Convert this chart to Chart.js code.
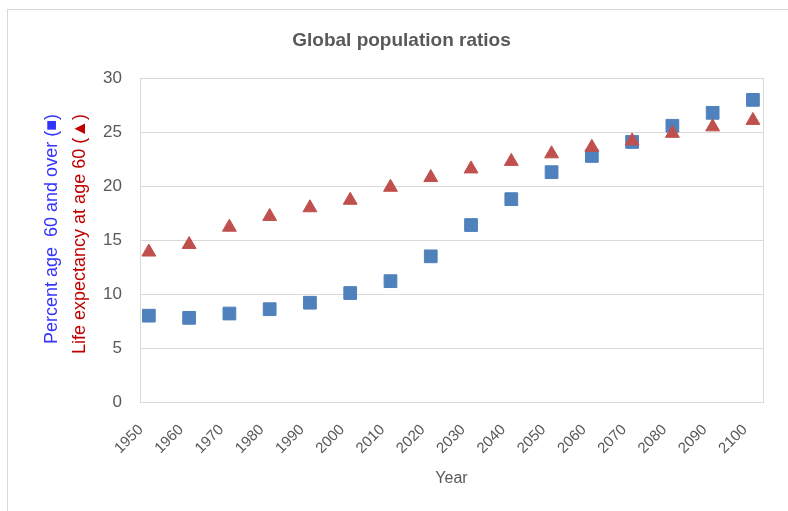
<!DOCTYPE html>
<html>
<head>
<meta charset="utf-8">
<script src="https://cdn.jsdelivr.net/npm/chart.js@4/dist/chart.umd.min.js"></script>
<style>
  html, body { margin: 0; padding: 0; background: #fff; overflow: hidden; }
  #frame { position: absolute; left: 7px; top: 9px; width: 900px; height: 600px; border: 1px solid #d9d9d9; }
  #wrap { position: absolute; left: 0; top: 0; width: 788px; height: 511px; }
</style>
</head>
<body>
<div id="frame"></div>
<div id="wrap"><canvas id="chart" width="788" height="511"></canvas></div>
<script>
// data
const years = [1950, 1960, 1970, 1980, 1990, 2000, 2010, 2020, 2030, 2040, 2050, 2060, 2070, 2080, 2090, 2100];
const pctOver60 = [8.0, 7.8, 8.2, 8.6, 9.2, 10.1, 11.2, 13.5, 16.4, 18.8, 21.3, 22.8, 24.1, 25.6, 26.8, 28.0];
const lifeExp60 = [13.9, 14.6, 16.2, 17.2, 18.0, 18.7, 19.9, 20.8, 21.6, 22.3, 23.0, 23.6, 24.2, 24.9, 25.5, 26.1];
const yTicks = [0, 5, 10, 15, 20, 25, 30];

const blue = '#4F81BD';
const red = '#C0504D';
const grey = '#595959';
const font = "'Liberation Sans', Arial, sans-serif";

// two-colour rotated y-axis title + box around the plot
const extras = {
  id: 'extras',
  beforeDatasetsDraw(chart) {
    const { ctx, chartArea: a } = chart;
    ctx.save();
    ctx.strokeStyle = '#d9d9d9';
    ctx.lineWidth = 1;
    ctx.strokeRect(Math.round(a.left) + 0.5, Math.round(a.top) + 0.5, Math.round(a.right - a.left), Math.round(a.bottom - a.top));
    ctx.restore();
  },
  afterDraw(chart) {
    const ctx = chart.ctx;
    const lines = [
      { text: 'Percent age  60 and over (\u25A0)', color: '#3333ff', x: 52, y: 229 },
      { text: 'Life expectancy at age 60 (\u25B2)', color: '#c00000', x: 80, y: 234 }
    ];
    lines.forEach(l => {
      ctx.save();
      ctx.font = '18px ' + font;
      ctx.textAlign = 'center';
      ctx.textBaseline = 'middle';
      ctx.translate(l.x, l.y);
      ctx.rotate(-Math.PI / 2);
      ctx.fillStyle = l.color;
      ctx.fillText(l.text, 0, 0);
      ctx.restore();
    });
  }
};

const toPoints = vals => years.map((y, i) => ({ x: y, y: vals[i] }));

new Chart(document.getElementById('chart'), {
  type: 'scatter',
  data: {
    datasets: [
      {
        label: 'Life expectancy at age 60',
        data: toPoints(lifeExp60),
        pointStyle: 'triangle',
        pointRadius: 8,
        backgroundColor: red,
        borderColor: red,
        borderWidth: 1
      },
      {
        label: 'Percent age 60 and over',
        data: toPoints(pctOver60),
        pointStyle: 'rect',
        pointRadius: 9,
        backgroundColor: blue,
        borderColor: blue,
        borderWidth: 1
      }
    ]
  },
  options: {
    responsive: false,
    animation: false,
    layout: { padding: { left: 40, right: 25, top: 0, bottom: 0 } },
    plugins: {
      legend: { display: false },
      tooltip: { enabled: false },
      title: {
        display: true,
        text: 'Global population ratios',
        color: grey,
        font: { family: font, size: 19, weight: 'bold' },
        padding: { top: 29, bottom: 26.5 }
      }
    },
    scales: {
      x: {
        type: 'linear',
        min: 1947.8,
        max: 2102.5,
        afterBuildTicks: s => { s.ticks = years.map(v => ({ value: v })); },
        afterFit: s => { s.height = 109; },
        grid: { display: false },
        border: { display: true, color: '#d9d9d9' },
        ticks: {
          color: grey,
          font: { family: font, size: 15 },
          minRotation: 45,
          maxRotation: 45,
          padding: 11,
          labelOffset: -8,
          callback: v => String(v)
        },
        title: {
          display: true,
          text: 'Year',
          color: grey,
          font: { family: font, size: 16 },
          padding: { top: 0, bottom: 23 }
        }
      },
      y: {
        min: 0,
        max: 30,
        afterBuildTicks: s => { s.ticks = yTicks.map(v => ({ value: v })); },
        afterFit: s => { s.width = 100; },
        grid: { color: '#d9d9d9', drawTicks: false },
        border: { display: true, color: '#d9d9d9' },
        ticks: {
          color: grey,
          font: { family: font, size: 17 },
          padding: 18
        }
      }
    }
  },
  plugins: [extras]
});
</script>
</body>
</html>
